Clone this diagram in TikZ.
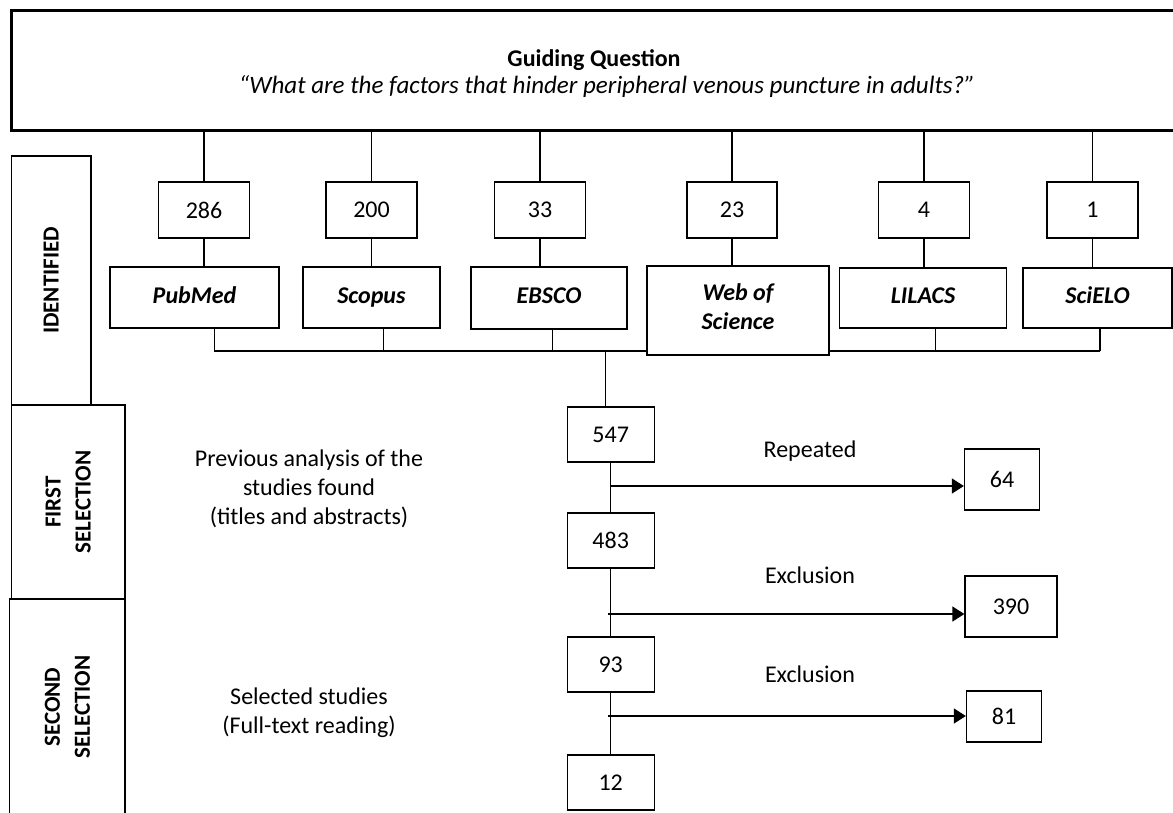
\documentclass[tikz,border=0pt]{standalone}
\usepackage{fontspec}
\setmainfont{Carlito}
\usetikzlibrary{arrows.meta}
\begin{document}
\begin{tikzpicture}[x=1pt,y=-1pt,line width=1.3pt,
		font=\fontsize{24}{29}\selectfont,
		box/.style = {draw, rectangle, inner sep=0pt, align=center},
		db/.style = {box, font=\fontsize{24}{29}\selectfont\bfseries\itshape, execute at begin node=\strut},
		stage/.style = {box, rotate=90, font=\fontsize{23}{30}\selectfont\bfseries},
		arr/.style = {-{Triangle[length=12pt,width=15pt]}}]
		\useasboundingbox (0,0) rectangle (1173,812);
		% guiding question
		\node[box, line width=3pt, minimum width=1180pt, minimum height=120pt] (q) at (601.5,70) {};
		\node (qt) at (594,60) {\textbf{Guiding Question}};
		\node[font=\fontsize{25}{29}\selectfont\itshape] (qi) at (607,87) {“What are the factors that hinder peripheral venous puncture in adults?”};
		% stages
		\node[stage, minimum width=249pt, minimum height=79.5pt] (s1) at (51.25,280.5) {IDENTIFIED};
		\node[stage, minimum width=194pt, minimum height=113.5pt] (s2) at (68.25,502) {FIRST\\SELECTION};
		\node[stage, minimum width=216pt, minimum height=115.4pt] (s3) at (67.3,707) {SECOND\\SELECTION};
		% numbers found
		\node[box, minimum width=91pt, minimum height=56pt] (n1) at (204,210) {286};
		\node[box, minimum width=91pt, minimum height=56pt] (n2) at (371.5,210) {200};
		\node[box, minimum width=91pt, minimum height=56pt] (n3) at (540,210) {33};
		\node[box, minimum width=90pt, minimum height=56pt] (n4) at (732,210) {23};
		\node[box, minimum width=91pt, minimum height=56pt] (n5) at (924,210) {4};
		\node[box, minimum width=91pt, minimum height=56pt] (n6) at (1092.5,210) {1};
		% databases
		\node[db, minimum width=169pt, minimum height=61pt] (d1) at (194.5,297.5) {PubMed};
		\node[db, minimum width=137pt, minimum height=61pt] (d2) at (371.4,297.5) {Scopus};
		\node[db, minimum width=156pt, minimum height=62pt] (d3) at (549,298) {EBSCO};
		\node[db, minimum width=167pt, minimum height=60pt] (d5) at (923,298) {LILACS};
		\node[db, minimum width=149pt, minimum height=60pt] (d6) at (1097.5,298) {SciELO};
		\foreach \i in {1,...,6} {
			\draw[-] (n\i.north) -- (n\i.north |- q.south);
		}
		\foreach \i in {1,2,3,5,6} {
			\draw[-] (n\i.south) -- (n\i.south |- d\i.north);
		}
		% joining bus
		\coordinate (b1) at (214.3,351);
		\coordinate (b2) at (383.4,351);
		\coordinate (b3) at (552.2,351);
		\coordinate (b5) at (935.5,351);
		\coordinate (b6) at (1100,351);
		\coordinate (bm) at (605.7,351);
		\foreach \i in {1,2,3,5,6} {
			\draw[-] (b\i |- d\i.south) -- (b\i);
		}
		\draw[-] (b1) -- (b6);
		\node[db, fill=white, minimum width=182pt, minimum height=89pt] (d4) at (738,310.5) {Web of\\Science\strut};
		\draw[-] (n4.south) -- (n4.south |- d4.north);
		% selection flow
		\node[box, minimum width=87pt, minimum height=55pt] (f1) at (610.7,434.5) {547};
		\node[box, minimum width=87pt, minimum height=55pt] (f2) at (610.7,540.5) {483};
		\node[box, minimum width=87pt, minimum height=55pt] (f3) at (610.7,664.5) {93};
		\node[box, minimum width=87pt, minimum height=55pt] (f4) at (610.7,782.5) {12};
		\node[box, minimum width=75pt, minimum height=61pt] (r1) at (1002,479.5) {64};
		\node[box, minimum width=92pt, minimum height=61pt] (r2) at (1011,606.5) {390};
		\node[box, minimum width=75pt, minimum height=51pt] (r3) at (1004,716.5) {81};
		\draw[-] (bm) -- (bm |- f1.north);
		\draw[-] (f1) -- (f2);
		\draw[-] (f2) -- (f3);
		\draw[-] (f3) -- (f4);
		\coordinate (t1) at (610,486);
		\coordinate (t2) at (608,614);
		\coordinate (t3) at (608,716);
		\draw[arr] (t1) -- (t1 -| r1.west);
		\draw[arr] (t2) -- (t2 -| r2.west);
		\draw[arr] (t3) -- (t3 -| r3.west);
		\node (l1) at (810,451) {Repeated};
		\node (l2) at (810,575) {Exclusion};
		\node (l3) at (810,674) {Exclusion};
		% stage descriptions
		\node[align=center] (p1) at (309,489) {Previous analysis of the\\studies found\\(titles and abstracts)};
		\node[align=center] (p2) at (309,712.5) {Selected studies\\(Full-text reading)};
	\end{tikzpicture}
\end{document}
